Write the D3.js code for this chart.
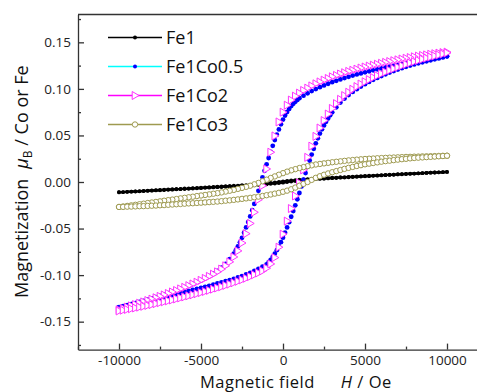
<!DOCTYPE html>
<html>
<head>
<meta charset="utf-8">
<script src="https://cdn.jsdelivr.net/npm/d3@7"></script>
<style>
  body { margin: 0; background: #fff; }
  svg { display: block; font-family: "Open Sans", sans-serif; }
</style>
</head>
<body>
<svg id="chart" width="477" height="392"></svg>
<script>
// Field sweeps (Oe): down from +10 kOe, then back up
const fieldDown = [10000,9750,9500,9250,9000,8750,8500,8250,8000,7750,7500,7250,7000,6750,6500,6250,6000,5750,5500,5250,5000,4750,4500,4250,4000,3750,3500,3250,3000,2750,2500,2250,2000,1750,1500,1250,1000,750,500,250,0,-250,-500,-750,-1000,-1250,-1500,-1750,-2000,-2250,-2500,-2750,-3000,-3250,-3500,-3750,-4000,-4250,-4500,-4750,-5000,-5250,-5500,-5750,-6000,-6250,-6500,-6750,-7000,-7250,-7500,-7750,-8000,-8250,-8500,-8750,-9000,-9250,-9500,-9750,-10000];
const fieldUp = [-10000,-9750,-9500,-9250,-9000,-8750,-8500,-8250,-8000,-7750,-7500,-7250,-7000,-6750,-6500,-6250,-6000,-5750,-5500,-5250,-5000,-4750,-4500,-4250,-4000,-3750,-3500,-3250,-3000,-2750,-2500,-2250,-2000,-1750,-1500,-1250,-1000,-750,-500,-250,0,250,500,750,1000,1250,1500,1750,2000,2250,2500,2750,3000,3250,3500,3750,4000,4250,4500,4750,5000,5250,5500,5750,6000,6250,6500,6750,7000,7250,7500,7750,8000,8250,8500,8750,9000,9250,9500,9750,10000];
// Finer steps through the switching region (Fe1Co0.5 run)
const fieldDownFine = [10000,9750,9500,9250,9000,8750,8500,8250,8000,7750,7500,7250,7000,6750,6500,6250,6000,5750,5500,5250,5000,4750,4500,4250,4000,3750,3500,3250,3000,2750,2500,2250,2000,1750,1500,1250,
  1000,875,750,625,500,375,250,125,0,-125,-250,-375,-500,-625,-750,-875,-1000,-1125,-1250,-1375,-1500,-1625,-1750,-1875,-2000,-2125,-2250,-2375,-2500,-2625,-2750,-2875,-3000,
  -3250,-3500,-3750,-4000,-4250,-4500,-4750,-5000,-5250,-5500,-5750,-6000,-6250,-6500,-6750,-7000,-7250,-7500,-7750,-8000,-8250,-8500,-8750,-9000,-9250,-9500,-9750,-10000];
const fieldUpFine = [-10000,-9750,-9500,-9250,-9000,-8750,-8500,-8250,-8000,-7750,-7500,-7250,-7000,-6750,-6500,-6250,-6000,-5750,-5500,-5250,-5000,-4750,-4500,-4250,-4000,-3750,-3500,-3250,-3000,-2750,-2500,-2250,-2000,-1750,-1500,-1250,
  -1000,-875,-750,-625,-500,-375,-250,-125,0,125,250,375,500,625,750,875,1000,1125,1250,1375,1500,1625,1750,1875,2000,2125,2250,2375,2500,2625,2750,2875,3000,
  3250,3500,3750,4000,4250,4500,4750,5000,5250,5500,5750,6000,6250,6500,6750,7000,7250,7500,7750,8000,8250,8500,8750,9000,9250,9500,9750,10000];

// Magnetization (muB per Co or Fe)
const fe1Down = [.0108,.0106,.0104,.0102,.0100,.0098,.0095,.0093,.0091,.0089,.0087,.0085,.0083,.0080,.0078,.0076,.0074,.0072,.0069,.0067,.0065,.0063,.0060,.0058,.0056,.0053,.0051,.0048,.0046,.0043,.0041,.0038,.0036,.0033,.0030,.0027,.0024,.0020,.0016,.0012,.0007,
  .0001,-.0005,-.0011,-.0016,-.0020,-.0024,-.0027,-.0030,-.0033,-.0035,-.0038,-.0040,-.0043,-.0045,-.0048,-.0050,-.0053,-.0055,-.0058,-.0060,-.0063,-.0065,-.0068,-.0070,-.0073,-.0075,-.0078,-.0080,-.0083,-.0085,-.0088,-.0090,-.0093,-.0095,-.0098,-.0100,-.0103,-.0105,-.0108,-.0110];
const fe1Up = [-.0110,-.0108,-.0106,-.0104,-.0102,-.0100,-.0097,-.0095,-.0093,-.0091,-.0089,-.0086,-.0084,-.0082,-.0079,-.0077,-.0075,-.0073,-.0070,-.0068,-.0066,-.0063,-.0061,-.0058,-.0056,-.0054,-.0051,-.0049,-.0046,-.0044,-.0041,-.0039,-.0036,-.0033,-.0030,-.0027,-.0024,-.0020,-.0016,-.0012,-.0007,
  -.0001,.0005,.0011,.0016,.0020,.0024,.0027,.0030,.0033,.0035,.0038,.0041,.0043,.0046,.0048,.0051,.0053,.0056,.0058,.0061,.0063,.0066,.0068,.0071,.0073,.0076,.0078,.0081,.0083,.0086,.0088,.0091,.0093,.0096,.0098,.0100,.0102,.0104,.0106,.0108];

const fe1co05Down = [.1350,.1343,.1336,.1329,.1322,.1315,.1307,.1300,.1292,.1284,.1275,.1267,.1258,.1249,.1239,.1230,.1220,.1210,.1199,.1189,.1178,.1166,.1155,.1143,.1130,.1116,.1102,.1087,.1072,.1055,.1037,.1018,.0998,.0976,.0952,.0927,
  .0900,.0882,.0862,.0840,.0815,.0785,.0752,.0714,.0670,.0620,.0565,.0508,.0450,.0388,.0324,.0258,.0190,.0120,.0050,-.0022,-.0095,-.0165,-.0235,-.0303,-.0370,-.0430,-.0488,-.0545,-.0600,-.0648,-.0692,-.0733,-.0770,
  -.0828,-.0880,-.0920,-.0955,-.0984,-.1010,-.1033,-.1055,-.1075,-.1094,-.1112,-.1130,-.1147,-.1163,-.1179,-.1195,-.1209,-.1223,-.1237,-.1250,-.1263,-.1276,-.1288,-.1300,-.1313,-.1325,-.1338,-.1350];
const fe1co05Up = [-.1345,-.1334,-.1323,-.1312,-.1302,-.1292,-.1282,-.1272,-.1262,-.1252,-.1242,-.1232,-.1222,-.1212,-.1201,-.1190,-.1180,-.1170,-.1159,-.1149,-.1138,-.1127,-.1115,-.1103,-.1090,-.1078,-.1066,-.1053,-.1040,-.1025,-.1010,-.0993,-.0975,-.0955,-.0932,-.0908,
  -.0885,-.0862,-.0836,-.0805,-.0770,-.0732,-.0690,-.0646,-.0598,-.0545,-.0488,-.0431,-.0373,-.0312,-.0250,-.0185,-.0118,-.0047,.0025,.0096,.0165,.0231,.0295,.0356,.0415,.0469,.0520,.0566,.0608,.0647,.0683,.0716,.0748,
  .0803,.0853,.0896,.0934,.0967,.0997,.1025,.1051,.1075,.1097,.1118,.1138,.1157,.1175,.1192,.1208,.1223,.1237,.1250,.1263,.1275,.1286,.1297,.1307,.1317,.1327,.1338,.1350];

const fe1co2Down = [.1395,.1390,.1384,.1378,.1372,.1365,.1359,.1352,.1345,.1337,.1329,.1321,.1312,.1303,.1294,.1285,.1275,.1265,.1255,.1245,.1235,.1224,.1212,.1200,.1188,.1174,.1160,.1145,.1130,.1112,.1094,.1075,.1055,.1032,.1008,.0983,.0955,.0922,.0880,.0825,.0750,
  .0645,.0495,.0320,.0140,-.0040,-.0190,-.0325,-.0445,-.0555,-.0655,-.0740,-.0805,-.0858,-.0900,-.0935,-.0965,-.0990,-.1013,-.1035,-.1056,-.1076,-.1095,-.1113,-.1131,-.1148,-.1165,-.1181,-.1197,-.1213,-.1228,-.1243,-.1258,-.1273,-.1288,-.1302,-.1316,-.1330,-.1344,-.1358,-.1372];
const fe1co2Up = [-.1385,-.1377,-.1369,-.1361,-.1353,-.1344,-.1335,-.1326,-.1317,-.1307,-.1297,-.1287,-.1277,-.1267,-.1256,-.1245,-.1234,-.1223,-.1212,-.1200,-.1188,-.1176,-.1164,-.1151,-.1138,-.1125,-.1111,-.1097,-.1082,-.1067,-.1051,-.1034,-.1016,-.0996,-.0977,-.0955,
  -.0925,-.0880,-.0812,-.0700,-.0560,-.0420,-.0285,-.0150,-.0010,.0130,.0265,.0385,.0490,.0580,.0660,.0730,.0790,.0842,.0888,.0928,.0964,.0996,.1025,.1052,.1077,.1100,.1122,.1143,.1163,.1182,.1200,.1217,.1233,.1249,.1264,.1279,.1293,.1306,.1319,.1331,.1343,.1354,.1365,.1376,.1387];

const fe1co3Down = [.0282,.0281,.0280,.0278,.0277,.0276,.0275,.0273,.0272,.0270,.0269,.0267,.0265,.0263,.0261,.0259,.0257,.0255,.0252,.0250,.0247,.0244,.0240,.0236,.0232,.0227,.0222,.0217,.0212,.0206,.0200,.0194,.0188,.0179,.0170,.0160,.0150,.0138,.0125,.0111,.0095,
  .0078,.0060,.0043,.0025,.0008,-.0010,-.0025,-.0040,-.0052,-.0063,-.0074,-.0085,-.0094,-.0103,-.0112,-.0120,-.0126,-.0133,-.0139,-.0145,-.0151,-.0158,-.0164,-.0170,-.0176,-.0183,-.0189,-.0195,-.0201,-.0208,-.0214,-.0220,-.0226,-.0233,-.0239,-.0245,-.0251,-.0257,-.0263,-.0268];
const fe1co3Up = [-.0268,-.0267,-.0265,-.0264,-.0262,-.0260,-.0259,-.0257,-.0255,-.0253,-.0250,-.0248,-.0245,-.0242,-.0239,-.0236,-.0233,-.0230,-.0228,-.0225,-.0222,-.0219,-.0216,-.0213,-.0210,-.0206,-.0201,-.0197,-.0192,-.0187,-.0181,-.0176,-.0170,-.0164,-.0157,-.0150,-.0142,-.0134,-.0125,-.0116,-.0105,
  -.0093,-.0078,-.0060,-.0040,-.0020,.0000,.0023,.0045,.0062,.0078,.0092,.0105,.0117,.0129,.0141,.0152,.0162,.0172,.0181,.0190,.0197,.0204,.0211,.0218,.0224,.0229,.0235,.0240,.0245,.0249,.0254,.0258,.0261,.0264,.0267,.0270,.0273,.0276,.0279,.0282];

const seriesNames = ["Fe1", "Fe1Co0.5", "Fe1Co2", "Fe1Co3"];
const xTicks = [-10000, -5000, 0, 5000, 10000];
const xMinorTicks = [-12500, -7500, -2500, 2500, 7500, 12500];
const yTicks = [-0.15, -0.10, -0.05, 0.00, 0.05, 0.10, 0.15];
const yMinorTicks = [-0.175, -0.125, -0.075, -0.025, 0.025, 0.075, 0.125, 0.175];

const svg = d3.select("#chart");
const x = d3.scaleLinear().domain([-12500, 12500]).range([78, 488]);
const y = d3.scaleLinear().domain([-0.18, 0.18]).range([349.6, 14.4]);

const axisColor = "#333";
const pts = (h, m) => h.map((v, i) => ({ h: v, m: m[i] }));

// marker painters
const triPath = "M-2.8,-4L4,0L-2.8,4Z";
const styles = [
  { name: seriesNames[0], sweeps: [pts(fieldDown, fe1Down), pts(fieldUp, fe1Up)],
    line: "#000", marker: "dot", fill: "#000", stroke: "none", r: 1.9 },
  { name: seriesNames[1], sweeps: [pts(fieldDownFine, fe1co05Down), pts(fieldUpFine, fe1co05Up)],
    line: "#00ffff", marker: "dot", fill: "#0000ff", stroke: "none", r: 2.4 },
  { name: seriesNames[2], sweeps: [pts(fieldDown, fe1co2Down), pts(fieldUp, fe1co2Up)],
    line: "#ff00ff", marker: "tri", fill: "#fff", stroke: "#ff33ff" },
  { name: seriesNames[3], sweeps: [pts(fieldDown, fe1co3Down), pts(fieldUp, fe1co3Up)],
    line: "#9e9a50", marker: "ring", fill: "#fff", stroke: "#9e9a50", r: 2.7 }
];

function drawMarker(g, s, cx, cy, legendSize) {
  if (s.marker === "tri") {
    g.append("path").attr("d", triPath).attr("transform", `translate(${cx},${cy})`)
      .attr("fill", s.fill).attr("stroke", s.stroke).attr("stroke-width", 1);
  } else if (s.marker === "ring") {
    g.append("circle").attr("cx", cx).attr("cy", cy).attr("r", s.r)
      .attr("fill", s.fill).attr("stroke", s.stroke).attr("stroke-width", 1);
  } else {
    g.append("circle").attr("cx", cx).attr("cy", cy).attr("r", legendSize ? 2 : s.r).attr("fill", s.fill);
  }
}

// data
const plot = svg.append("g");
const lineGen = d3.line().x(d => x(d.h)).y(d => y(d.m));
styles.forEach(s => {
  const g = plot.append("g");
  if (s.marker === "dot" && s.line === "#000") {
    s.sweeps.forEach(sw => g.append("path").attr("d", lineGen(sw))
      .attr("fill", "none").attr("stroke", "#000").attr("stroke-width", 2.2));
  }
  s.sweeps.forEach(sw => sw.forEach(d => drawMarker(g, s, x(d.h), y(d.m), false)));
});

// axes
svg.append("g").attr("transform", `translate(0,${y(-0.18)})`)
  .call(d3.axisBottom(x).tickValues(xTicks).tickSize(-6).tickSizeOuter(0).tickPadding(6).tickFormat(d => String(d)));
svg.append("g").attr("transform", `translate(0,${y(-0.18)})`)
  .call(d3.axisBottom(x).tickValues(xMinorTicks).tickSize(-3).tickSizeOuter(0).tickFormat(""))
  .select(".domain").remove();
svg.append("g").attr("transform", `translate(${x(-12500)},0)`)
  .call(d3.axisLeft(y).tickValues(yTicks).tickSize(-6).tickSizeOuter(0).tickPadding(7).tickFormat(d => d.toFixed(2)));
svg.append("g").attr("transform", `translate(${x(-12500)},0)`)
  .call(d3.axisLeft(y).tickValues(yMinorTicks).tickSize(-3).tickSizeOuter(0).tickFormat(""))
  .select(".domain").remove();
svg.append("line").attr("x1", x(-12500)).attr("x2", x(12500))
  .attr("y1", y(0.18)).attr("y2", y(0.18)).attr("stroke", axisColor).attr("stroke-width", 1.5);

svg.selectAll(".domain, .tick line").attr("stroke", axisColor).attr("stroke-width", 1.3);
svg.selectAll(".tick text").attr("fill", "#222").attr("font-size", 13.5)
  .attr("font-family", "'Open Sans', sans-serif");

// axis titles
const xt = svg.append("text").attr("x", 200).attr("y", 387.5).attr("font-size", 16.5)
  .attr("letter-spacing", 0.5).attr("fill", "#111");
xt.append("tspan").text("Magnetic field");
xt.append("tspan").attr("dx", 26).attr("font-style", "italic").text("H");
xt.append("tspan").text(" / Oe");

const yt = svg.append("text").attr("transform", "rotate(-90)")
  .attr("x", -298).attr("y", 28).attr("font-size", 18).attr("fill", "#111");
yt.append("tspan").text("Magnetization");
yt.append("tspan").attr("dx", 10).attr("font-style", "italic").text("\u03bc");
yt.append("tspan").attr("font-size", 12).attr("dy", 4).text("B");
yt.append("tspan").attr("dy", -4).text(" / Co or Fe");

// legend
const legend = svg.append("g");
styles.forEach((s, i) => {
  const ly = 37.5 + i * 29;
  const g = legend.append("g");
  g.append("line").attr("x1", 108).attr("x2", 162).attr("y1", ly).attr("y2", ly)
    .attr("stroke", s.line).attr("stroke-width", 1.3);
  drawMarker(g, s, 135, ly, true);
  g.append("text").attr("x", 166).attr("y", ly + 6.5).attr("font-size", 18).attr("fill", "#111").text(s.name);
});
</script>
</body>
</html>
